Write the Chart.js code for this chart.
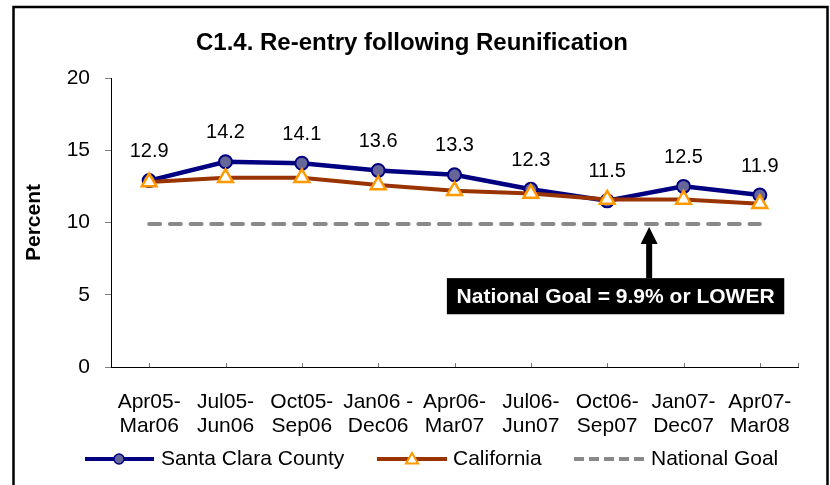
<!DOCTYPE html>
<html>
<head>
<meta charset="utf-8">
<script src="https://cdn.jsdelivr.net/npm/chart.js@4.4.0/dist/chart.umd.min.js"></script>
<style>
html, body { margin: 0; padding: 0; background: #fff; }
#wrap { width: 830px; height: 485px; }
</style>
</head>
<body>
<div id="wrap"><canvas id="reentryChart" width="830" height="485"></canvas></div>
<script>
// C1.4 re-entry following reunification, percent
var periods = [
    ['Apr05-', 'Mar06'], ['Jul05-', 'Jun06'], ['Oct05-', 'Sep06'],
    ['Jan06 -', 'Dec06'], ['Apr06-', 'Mar07'], ['Jul06-', 'Jun07'],
    ['Oct06-', 'Sep07'], ['Jan07-', 'Dec07'], ['Apr07-', 'Mar08']
];
var santaClara = [12.9, 14.2, 14.1, 13.6, 13.3, 12.3, 11.5, 12.5, 11.9];
var california = [12.8, 13.1, 13.1, 12.6, 12.2, 12.0, 11.6, 11.6, 11.3];
var nationalGoal = [9.9, 9.9, 9.9, 9.9, 9.9, 9.9, 9.9, 9.9, 9.9];
var yMin = 0, yMax = 20, yStep = 5;

var FONT = '"Liberation Sans", Arial, sans-serif';

function drawTriangle(ctx, x, y, r) {
    ctx.beginPath();
    ctx.moveTo(x, y - r);
    ctx.lineTo(x + r * 0.866, y + r * 0.5);
    ctx.lineTo(x - r * 0.866, y + r * 0.5);
    ctx.closePath();
}

var chartDecor = {
    id: 'chartDecor',
    beforeDraw: function(chart) {
        var ctx = chart.ctx;
        ctx.save();
        ctx.fillStyle = '#fff';
        ctx.fillRect(0, 0, chart.width, chart.height);
        ctx.strokeStyle = '#000';
        ctx.lineWidth = 2.5;
        ctx.strokeRect(13.5, 7, 814, 495);
        ctx.fillStyle = '#000';
        ctx.font = 'bold 24px ' + FONT;
        ctx.textAlign = 'center';
        ctx.textBaseline = 'middle';
        ctx.fillText('C1.4. Re-entry following Reunification', 412, 43);
        ctx.restore();
    },
    afterDatasetsDraw: function(chart) {
        var ctx = chart.ctx;
        var xs = chart.scales.x, ys = chart.scales.y;
        var area = chart.chartArea;
        ctx.save();

        // inner tick marks on the category axis
        ctx.strokeStyle = '#777';
        ctx.lineWidth = 1;
        ctx.beginPath();
        for (var i = 0; i < periods.length; i++) {
            var tx = Math.round(xs.getPixelForValue(i)) + 0.5;
            ctx.moveTo(tx, area.bottom - 4);
            ctx.lineTo(tx, area.bottom);
        }
        ctx.moveTo(Math.round(area.right) + 0.5, area.bottom - 4);
        ctx.lineTo(Math.round(area.right) + 0.5, area.bottom);
        ctx.stroke();

        // value labels over Santa Clara points
        var meta = chart.getDatasetMeta(0);
        ctx.fillStyle = '#000';
        ctx.font = '20px ' + FONT;
        ctx.textAlign = 'center';
        ctx.textBaseline = 'middle';
        meta.data.forEach(function(pt, k) {
            ctx.fillText(santaClara[k].toFixed(1), pt.x, pt.y - 29);
        });

        // goal callout: arrow + black box
        var ax = xs.getPixelForValue(6.55);
        var tipY = ys.getPixelForValue(nationalGoal[0]) + 3;
        var boxTop = ys.getPixelForValue(6.15);
        var boxBot = ys.getPixelForValue(3.65);
        var boxL = xs.getPixelForValue(3.9);
        var boxR = xs.getPixelForValue(8.32);
        ctx.fillStyle = '#000';
        ctx.fillRect(ax - 3, tipY + 15, 6, boxTop - tipY - 15);
        ctx.beginPath();
        ctx.moveTo(ax, tipY);
        ctx.lineTo(ax + 8.5, tipY + 17);
        ctx.lineTo(ax - 8.5, tipY + 17);
        ctx.closePath();
        ctx.fill();
        ctx.fillRect(boxL, boxTop, boxR - boxL, boxBot - boxTop);
        ctx.fillStyle = '#fff';
        ctx.font = 'bold 21px ' + FONT;
        ctx.fillText('National Goal = 9.9% or LOWER', (boxL + boxR) / 2, (boxTop + boxBot) / 2 + 1);
        ctx.restore();
    },
    afterDraw: function(chart) {
        var ctx = chart.ctx;
        var ly = 459;
        ctx.save();
        ctx.lineCap = 'butt';
        // Santa Clara County
        ctx.strokeStyle = '#000080';
        ctx.lineWidth = 4;
        ctx.beginPath(); ctx.moveTo(85, ly); ctx.lineTo(154, ly); ctx.stroke();
        ctx.beginPath(); ctx.arc(119, ly, 5, 0, Math.PI * 2);
        ctx.fillStyle = '#666699'; ctx.fill();
        ctx.lineWidth = 1.5; ctx.stroke();
        // California
        ctx.strokeStyle = '#993300';
        ctx.lineWidth = 4;
        ctx.beginPath(); ctx.moveTo(377, ly); ctx.lineTo(447, ly); ctx.stroke();
        drawTriangle(ctx, 412, ly + 1, 7);
        ctx.fillStyle = '#fff'; ctx.fill();
        ctx.strokeStyle = '#FF9900'; ctx.lineWidth = 2; ctx.stroke();
        // National Goal
        ctx.strokeStyle = '#898989';
        ctx.lineWidth = 4;
        ctx.setLineDash([10, 5]);
        ctx.beginPath(); ctx.moveTo(574, ly); ctx.lineTo(644, ly); ctx.stroke();
        ctx.setLineDash([]);

        ctx.fillStyle = '#000';
        ctx.font = '21px ' + FONT;
        ctx.textAlign = 'left';
        ctx.textBaseline = 'middle';
        ctx.fillText('Santa Clara County', 161, ly);
        ctx.fillText('California', 453, ly);
        ctx.fillText('National Goal', 651, ly);
        ctx.restore();
    }
};

new Chart(document.getElementById('reentryChart'), {
    type: 'line',
    data: {
        labels: periods,
        datasets: [{
            label: 'Santa Clara County',
            data: santaClara,
            order: 1,
            borderColor: '#000080',
            borderWidth: 4.5,
            pointStyle: 'circle',
            pointRadius: 6.5,
            pointBorderWidth: 2,
            pointBackgroundColor: '#666699',
            pointBorderColor: '#000080',
            tension: 0
        }, {
            label: 'California',
            data: california,
            order: 0,
            borderColor: '#993300',
            borderWidth: 4,
            pointStyle: 'triangle',
            pointRadius: 8.5,
            pointBorderWidth: 2.5,
            pointBackgroundColor: '#ffffff',
            pointBorderColor: '#FF9900',
            tension: 0
        }, {
            label: 'National Goal',
            data: nationalGoal,
            order: 2,
            borderColor: '#898989',
            borderWidth: 4,
            borderDash: [11, 9.7],
            borderCapStyle: 'round',
            pointRadius: 0,
            tension: 0
        }]
    },
    options: {
        responsive: false,
        animation: false,
        layout: { padding: { left: 0, right: 32, top: 78, bottom: 48 } },
        plugins: {
            legend: { display: false },
            title: { display: false },
            tooltip: { enabled: false }
        },
        scales: {
            x: {
                offset: true,
                grid: { display: false, drawTicks: false },
                border: { display: true, color: '#000', width: 1 },
                ticks: {
                    color: '#000',
                    font: { family: FONT, size: 21, lineHeight: 1.15 },
                    padding: 23,
                    maxRotation: 0,
                    autoSkip: false
                },
                afterFit: function(scale) { scale.height = 70; }
            },
            y: {
                min: yMin,
                max: yMax,
                grid: { display: true, drawOnChartArea: false, drawTicks: true, tickLength: 6, color: '#808080' },
                border: { display: true, color: '#000', width: 1 },
                ticks: {
                    stepSize: yStep,
                    color: '#000',
                    font: { family: FONT, size: 21 },
                    padding: 15
                },
                title: {
                    display: true,
                    text: 'Percent',
                    color: '#000',
                    font: { family: FONT, size: 21, weight: 'bold' },
                    padding: { top: 22, bottom: 0 }
                },
                afterFit: function(scale) { scale.width = 111; }
            }
        }
    },
    plugins: [chartDecor]
});
</script>
</body>
</html>
